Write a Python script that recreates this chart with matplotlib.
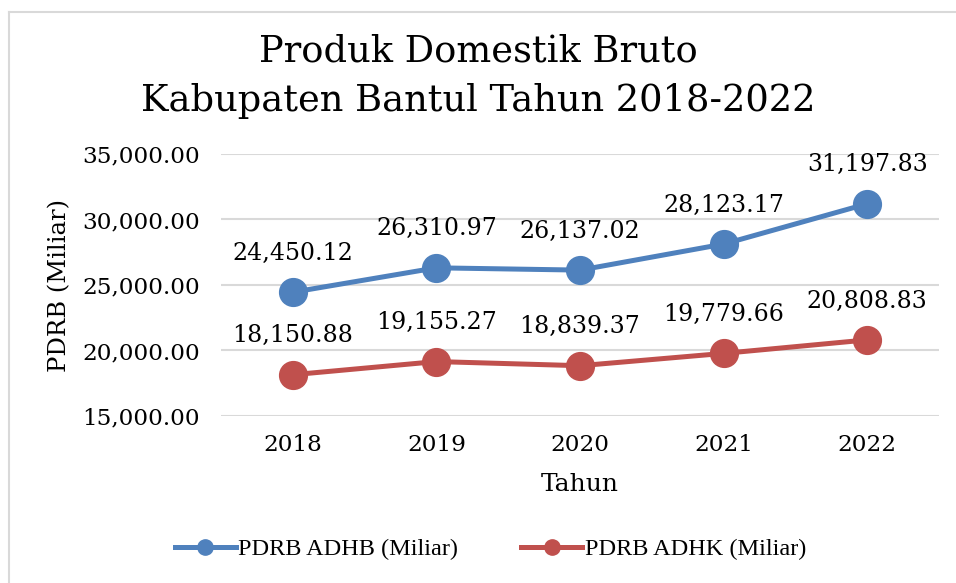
import matplotlib.pyplot as plt
from matplotlib.lines import Line2D
from matplotlib.ticker import FuncFormatter

# Data
years = ['2018', '2019', '2020', '2021', '2022']
adhb = [24450.12, 26310.97, 26137.02, 28123.17, 31197.83]
adhk = [18150.88, 19155.27, 18839.37, 19779.66, 20808.83]

blue = '#4F81BD'
red = '#C0504D'
serif = 'DejaVu Serif'

fig = plt.figure(figsize=(9.56, 5.83), dpi=100)
ax = fig.add_axes([221 / 956, 1 - 416 / 583, (939 - 221) / 956, (416 - 154) / 583])

x = range(len(years))
l1, = ax.plot(x, adhb, '-o', color=blue, lw=3.6, ms=20, label='PDRB ADHB (Miliar)')
l2, = ax.plot(x, adhk, '-o', color=red, lw=3.6, ms=20, label='PDRB ADHK (Miliar)')

# Data labels
for xi, v in zip(x, adhb):
    ax.annotate(f'{v:,.2f}', (xi, v), xytext=(0, 28), textcoords='offset points',
                ha='center', va='center', fontsize=17, family=serif)
for xi, v in zip(x, adhk):
    ax.annotate(f'{v:,.2f}', (xi, v), xytext=(0, 28), textcoords='offset points',
                ha='center', va='center', fontsize=17, family=serif)

ax.set_xlim(-0.5, len(years) - 0.5)
ax.set_ylim(15000, 35000)
ax.set_yticks([15000, 20000, 25000, 30000, 35000])
ax.yaxis.set_major_formatter(FuncFormatter(lambda v, p: f'{v:,.2f}'))
ax.set_xticks(list(x))
ax.set_xticklabels(years)
ax.grid(axis='y', color='#D9D9D9', lw=1.5)
ax.set_axisbelow(True)
for s in ax.spines.values():
    s.set_visible(False)
ax.tick_params(length=0, labelsize=16.7)
ax.tick_params(axis='x', pad=13)
ax.tick_params(axis='y', pad=15)
for lab in ax.get_xticklabels() + ax.get_yticklabels():
    lab.set_family(serif)

ax.set_xlabel('Tahun', fontsize=18, family=serif, labelpad=12)
ax.set_ylabel('PDRB (Miliar)', fontsize=17.5, family=serif, labelpad=8)

fig.text(0.5, 1 - 52 / 583, 'Produk Domestik Bruto', ha='center', va='center',
         fontsize=26.5, family=serif)
fig.text(0.5, 1 - 101 / 583, 'Kabupaten Bantul Tahun 2018-2022', ha='center', va='center',
         fontsize=26.5, family=serif)

fig.legend(handles=[l1, l2], loc='center', bbox_to_anchor=(0.513, 1 - 549 / 583),
           ncol=2, frameon=False, prop={'family': 'Liberation Serif', 'size': 17.5},
           markerscale=0.55, handlelength=2.5, handletextpad=0.1, columnspacing=2.6)

# Chart border (left and top edges)
fig.add_artist(Line2D([9 / 956, 9 / 956], [0, 1 - 12 / 583], color='#D9D9D9', lw=1.5))
fig.add_artist(Line2D([9 / 956, 1], [1 - 12 / 583, 1 - 12 / 583], color='#D9D9D9', lw=1.5))

fig.savefig('out.png', dpi=100)
